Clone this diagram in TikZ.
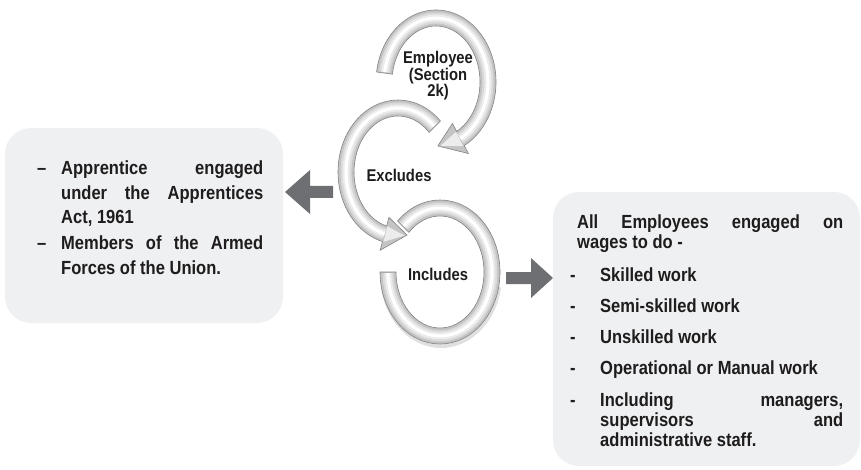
\documentclass[tikz,border=0pt]{standalone}
\usepackage{fontspec}
\setmainfont{Liberation Sans}[FakeStretch=0.87]
\usetikzlibrary{calc}
\definecolor{boxfill}{RGB}{239,240,242}
\definecolor{arrgray}{RGB}{110,111,114}
\definecolor{ringfill}{RGB}{196,196,196}
\definecolor{ringmid}{RGB}{218,218,218}
\definecolor{ringlight}{RGB}{236,236,236}
\definecolor{ringedge}{RGB}{130,130,130}
\definecolor{txtcol}{RGB}{30,28,28}
\begin{document}
\begin{tikzpicture}[x=1pt,y=1pt,
  infobox/.style={fill=boxfill, rounded corners=26pt, inner sep=0pt},
  ring/.style={fill=ringfill, draw=ringedge, line width=0.6pt},
  glowa/.style={line width=11pt, draw=ringmid},
  glowb/.style={line width=7pt, draw=ringlight},
  glowc/.style={line width=3pt, draw=white},
  shadowring/.style={fill=black, opacity=0.12},
  blockarrow/.style={fill=arrgray},
  txt/.style={font=\fontsize{19}{20}\selectfont\bfseries, text=txtcol, inner sep=0pt, align=justify, anchor=base west},
  ltxt/.style={txt, font=\fontsize{19}{24.5}\selectfont\bfseries},
  dashmark/.style={font=\fontsize{19}{20}\selectfont\bfseries, text=txtcol, inner sep=0pt, anchor=base west},
  lab/.style={font=\fontsize{17}{16.5}\selectfont\bfseries, text=txtcol, inner sep=0pt, align=center}
]
\useasboundingbox (0,0) rectangle (861,-470);

% boxes
\node[infobox, minimum width=278pt, minimum height=195pt] (lbox) at (144,-225.5) {};
\node[infobox, minimum width=307pt, minimum height=274pt] (rbox) at (706.5,-329) {};

% ring centres
\coordinate (c1) at (436,-82);
\coordinate (c2) at (398,-172);
\coordinate (c3) at (440,-272);

% ring 3 (Includes)
\fill[shadowring] ($(c3)+(-10:61pt and 73pt)+(1,-3)$) arc[start angle=-10,end angle=-170,x radius=61pt,y radius=73pt]
  -- ($(c3)+(-170:52pt and 64pt)$) arc[start angle=-170,end angle=-10,x radius=52pt,y radius=64pt] -- cycle;
\filldraw[ring] ($(c3)+(135:60pt and 72pt)$) arc[start angle=135,end angle=-180,x radius=60pt,y radius=72pt]
  -- ($(c3)+(-180:44pt and 56pt)$) arc[start angle=-180,end angle=135,x radius=44pt,y radius=56pt] -- cycle;
\foreach \s in {glowa,glowb,glowc}
  \draw[\s] ($(c3)+(134:52pt and 64pt)$) arc[start angle=134,end angle=-179,x radius=52pt,y radius=64pt];

% ring 2 (Excludes)
\filldraw[ring] ($(c2)+(45:60pt and 72pt)$) arc[start angle=45,end angle=255,x radius=60pt,y radius=72pt]
  -- ($(c2)+(255:69pt and 81pt)$) -- ($(c2)+(280:52pt and 64pt)$) -- ($(c2)+(255:35pt and 47pt)$)
  -- ($(c2)+(255:44pt and 56pt)$) arc[start angle=255,end angle=45,x radius=44pt,y radius=56pt] -- cycle;
\foreach \s in {glowa,glowb,glowc}
  \draw[\s] ($(c2)+(46:52pt and 64pt)$) arc[start angle=46,end angle=255,x radius=52pt,y radius=64pt];
\fill[ringlight] ($(c2)+(256:60pt and 72pt)$) -- ($(c2)+(277:52pt and 64pt)$) -- ($(c2)+(256:44pt and 56pt)$) -- cycle;

% ring 1 (Employee)
\filldraw[ring] ($(c1)+(172:60pt and 72pt)$) arc[start angle=172,end angle=-62,x radius=60pt,y radius=72pt]
  -- ($(c1)+(-62:69pt and 81pt)$) -- ($(c1)+(-88:52pt and 64pt)$) -- ($(c1)+(-62:35pt and 47pt)$)
  -- ($(c1)+(-62:44pt and 56pt)$) arc[start angle=-62,end angle=172,x radius=44pt,y radius=56pt] -- cycle;
\foreach \s in {glowa,glowb,glowc}
  \draw[\s] ($(c1)+(171:52pt and 64pt)$) arc[start angle=171,end angle=-62,x radius=52pt,y radius=64pt];
\fill[ringlight] ($(c1)+(-63:60pt and 72pt)$) -- ($(c1)+(-85:52pt and 64pt)$) -- ($(c1)+(-63:44pt and 56pt)$) -- cycle;

% ring labels
\node[lab] (emp) at (438,-76) {Employee\\(Section\\2k)};
\node[lab] (exc) at (399,-175) {Excludes};
\node[lab] (inc) at (438,-274) {Includes};

% block arrows
\coordinate (ltip) at (285,-192);
\fill[blockarrow] (ltip) -- ++(25,22) -- ++(0,-16) -- ++(23,0) -- ++(0,-12) -- ++(-23,0) -- ++(0,-16) -- cycle;
\coordinate (rtip) at (553,-278);
\fill[blockarrow] (rtip) -- ++(-22,20) -- ++(0,-14) -- ++(-25,0) -- ++(0,-12) -- ++(25,0) -- ++(0,-14) -- cycle;

% left box text
\node[dashmark] (ld1) at (37,-175) {–};
\node[ltxt, text width=202pt] (lt1) at (61,-175) {Apprentice engaged\linebreak under the Apprentices\linebreak Act, 1961};
\node[dashmark] (ld2) at (37,-250) {–};
\node[ltxt, text width=202pt] (lt2) at (61,-250) {Members of the Armed\linebreak Forces of the Union.};

% right box text
\node[txt, text width=266pt] (rintro) at (577,-229) {All Employees engaged on\linebreak wages to do -};
\node[dashmark] (rd1) at (570,-281) {-};
\node[txt] (r1) at (600,-281) {Skilled work};
\node[dashmark] (rd2) at (570,-312) {-};
\node[txt] (r2) at (600,-312) {Semi-skilled work};
\node[dashmark] (rd3) at (570,-343) {-};
\node[txt] (r3) at (600,-343) {Unskilled work};
\node[dashmark] (rd4) at (570,-374) {-};
\node[txt] (r4) at (600,-374) {Operational or Manual work};
\node[dashmark] (rd5) at (570,-406) {-};
\node[txt, text width=243pt] (r5) at (600,-406) {Including managers,\linebreak supervisors and\linebreak administrative staff.};
\end{tikzpicture}
\end{document}
